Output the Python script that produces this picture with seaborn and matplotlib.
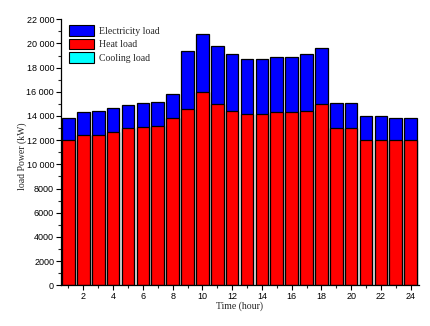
import matplotlib
matplotlib.use("Agg")
import matplotlib.pyplot as plt
from matplotlib.ticker import MultipleLocator, FuncFormatter
from matplotlib.patches import Patch
import seaborn as sns
import pandas as pd

hours = list(range(1, 25))
heat_load = [12000, 12400, 12450, 12700, 13000, 13100, 13200, 13800, 14600, 16000, 15000, 14400,
             14200, 14200, 14300, 14300, 14400, 15000, 13000, 13000, 12000, 12000, 12000, 12000]
total_load = [13800, 14300, 14400, 14650, 14900, 15050, 15150, 15800, 19350, 20750, 19750, 19100,
              18700, 18700, 18850, 18850, 19100, 19600, 15050, 15050, 14000, 14000, 13800, 13800]
elec_load = [t - h for t, h in zip(total_load, heat_load)]
cooling_load = [0] * 24
series_names = ["Electricity load", "Heat load", "Cooling load"]
series_colors = ["#0000ff", "#ff0000", "#00ffff"]

df = pd.DataFrame({"hour": hours, "heat": heat_load, "elec": elec_load, "cool": cooling_load})
df["top"] = df["heat"] + df["elec"] + df["cool"]

sns.set_style("ticks")
plt.rcParams["font.family"] = ["Liberation Sans", "DejaVu Sans"]

fig = plt.figure(figsize=(4.3, 3.26), dpi=100)
ax = fig.add_axes([0.142, 0.125, 0.832, 0.816])

sns.barplot(data=df, x="hour", y="top", native_scale=True, color=series_colors[0],
            saturation=1, width=0.85, edgecolor="black", linewidth=0.9, ax=ax)
sns.barplot(data=df, x="hour", y="heat", native_scale=True, color=series_colors[1],
            saturation=1, width=0.85, edgecolor="black", linewidth=0.9, ax=ax)

ax.set_xlim(0.5, 24.55)
ax.set_ylim(0, 22000)
ax.xaxis.set_major_locator(MultipleLocator(2))
ax.xaxis.set_minor_locator(MultipleLocator(1))
ax.yaxis.set_major_locator(MultipleLocator(2000))
ax.yaxis.set_minor_locator(MultipleLocator(1000))

def yfmt(v, pos):
    v = int(round(v))
    if v >= 10000:
        return f"{v // 1000} {v % 1000:03d}"
    return str(v)

ax.yaxis.set_major_formatter(FuncFormatter(yfmt))
ax.xaxis.set_major_formatter(FuncFormatter(lambda v, p: str(int(v))))
ax.tick_params(axis="both", which="major", direction="out", length=3.5, width=0.8,
               labelsize=6.5, pad=1.5, colors="black")
ax.tick_params(axis="both", which="minor", direction="out", length=2, width=0.8)
for s in ["top", "right"]:
    ax.spines[s].set_visible(False)
for s in ["left", "bottom"]:
    ax.spines[s].set_linewidth(0.9)
    ax.spines[s].set_color("black")

ax.set_xlabel("Time (hour)", fontfamily="Liberation Serif", fontsize=7, labelpad=0)
ax.set_ylabel("load Power (kW)", fontfamily="Liberation Serif", fontsize=7)
ax.yaxis.set_label_coords(-0.095, 0.485)

handles = [Patch(facecolor=c, edgecolor="black", linewidth=0.8) for c in series_colors]
ax.legend(handles, series_names, loc="upper left", bbox_to_anchor=(0.005, 1.0),
          frameon=False, prop={"family": "Liberation Serif", "size": 7},
          handlelength=2.6, handleheight=1.3, handletextpad=0.5, labelspacing=0.3,
          borderaxespad=0.2)

fig.savefig("out.png", dpi=100)
